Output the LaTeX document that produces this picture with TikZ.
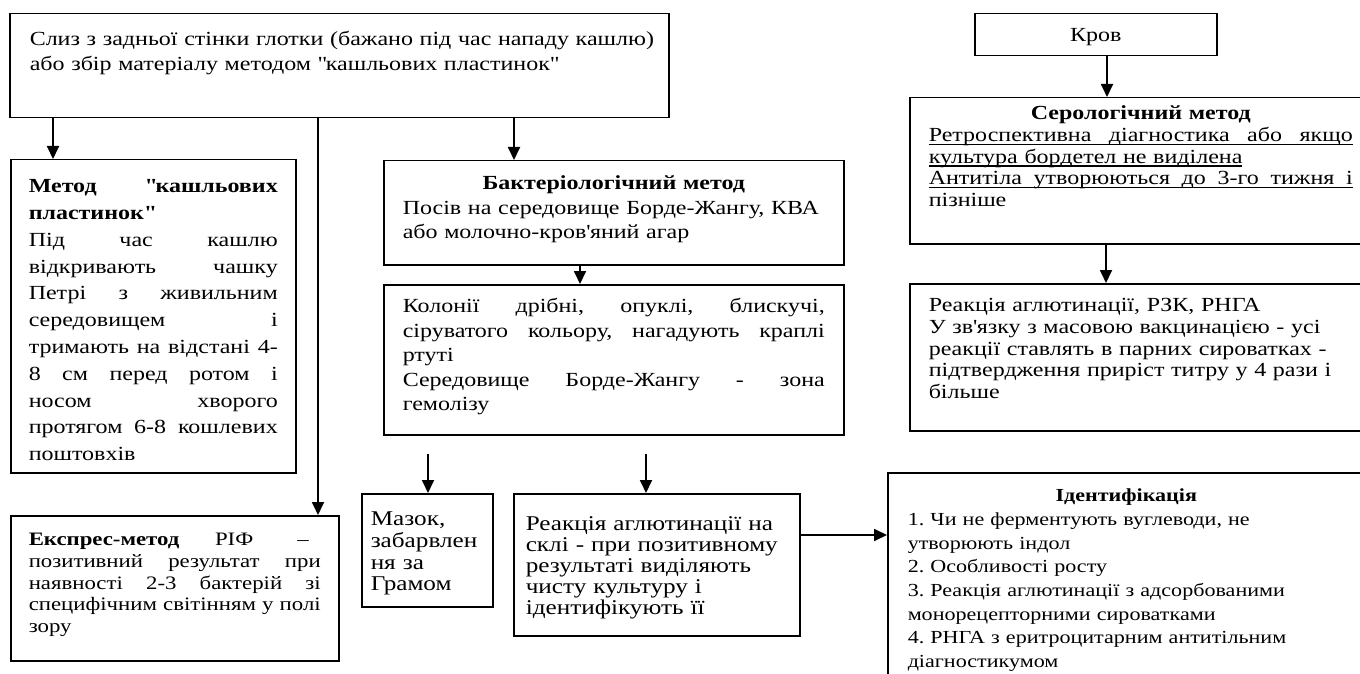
\documentclass[tikz,border=0pt]{standalone}
\usepackage{fontspec}
\setmainfont{Liberation Serif}[FakeStretch=1.2]
\usetikzlibrary{arrows.meta,calc}

\frenchspacing
\newcommand{\jl}[1]{\makebox[\linewidth][s]{\spaceskip=\fontdimen2\font plus 1fill\relax #1}}
\newsavebox{\ulsave}
\newcommand{\ulline}[1]{\leavevmode\sbox{\ulsave}{#1}\rlap{\rule[-3.5pt]{\wd\ulsave}{1.2pt}}\usebox{\ulsave}}

\begin{document}
\begin{tikzpicture}[
    x=1pt, y=1pt,
    box/.style={draw, line width=1.5pt, anchor=north west, inner ysep=0pt, align=left, font=\fontsize{20}{21.7}\selectfont},
    arrow/.style={-{Triangle[width=12pt,length=13pt]}, line width=1.8pt}
]
    \clip (0,0) rectangle (1360,-674);

    % material and the methods below it
    \node [box, inner xsep=20pt, text width=619pt, text height=32pt, text depth=72pt, font=\fontsize{20}{25}\selectfont] (smp) at (9,-13)
        {\mbox{Слиз з задньої стінки глотки (бажано під час нападу кашлю)}\\або збір матеріалу методом \textquotedbl кашльових пластинок\textquotedbl};
    \node [box, inner xsep=18pt, text width=249pt, text height=33pt, text depth=280pt, font=\fontsize{20}{26.8}\selectfont] (met) at (10,-159)
        {\jl{\textbf{Метод \textquotedbl кашльових}}\\\textbf{пластинок\textquotedbl}\\\jl{Під час кашлю}\\\jl{відкривають чашку}\\\jl{Петрі з живильним}\\\jl{середовищем і}\\\jl{тримають на відстані 4-}\\\jl{8 см перед ротом і}\\\jl{носом хворого}\\\jl{протягом 6-8 кошлевих}\\поштовхів};
    \node [box, inner xsep=18pt, text width=292pt, text height=30pt, text depth=115pt, font=\fontsize{19}{21.7}\selectfont] (expr) at (10,-515)
        {\makebox[\linewidth][l]{\textbf{Експрес-метод}\hfill РІФ\hspace{44pt}–\hspace{12pt}}\\\jl{позитивний результат при}\\\jl{наявності 2-3 бактерій зі}\\\jl{специфічним світінням у полі}\\зору};
    \node [box, inner xsep=19pt, text width=422pt, text height=29pt, text depth=75pt, font=\fontsize{20}{24.5}\selectfont] (bakt) at (383,-160)
        {\makebox[\linewidth]{\textbf{Бактеріологічний метод}}\\Посів на середовище Борде-Жангу, КВА\\або молочно-кров\textquotesingle яний агар};
    \node [box, inner xsep=19pt, text width=422pt, text height=28pt, text depth=122pt, font=\fontsize{20}{24.5}\selectfont] (kol) at (383,-284)
        {\jl{Колонії дрібні, опуклі, блискучі,}\\\jl{сіруватого кольору, нагадують краплі}\\ртуті\\\jl{Середовище Борде-Жангу - зона}\\гемолізу};
    \node [box, inner xsep=9pt, text width=113pt, text height=32pt, text depth=81pt, font=\fontsize{21}{21.7}\selectfont] (maz) at (361,-493)
        {Мазок,\\забарвлен\\ня за\\Грамом};
    \node [box, inner xsep=12pt, text width=262pt, text height=37pt, text depth=105pt, font=\fontsize{21}{21}\selectfont] (agl) at (513,-493)
        {Реакція аглютинації на\\склі - при позитивному\\результаті виділяють\\чисту культуру і\\ідентифікують її};
    \node [box, inner xsep=20pt, text width=437pt, text height=29pt, text depth=189pt, font=\fontsize{18.4}{23.7}\selectfont] (ident) at (887,-472)
        {\makebox[\linewidth]{\textbf{Ідентифікація}}\\1. Чи не ферментують вуглеводи, не\\утворюють індол\\2. Особливості росту\\3. Реакція аглютинації з адсорбованими\\монорецепторними сироватками\\4. РНГА з еритроцитарним антитільним\\діагностикумом};

    % blood and serology
    \node [box, inner xsep=0pt, text width=242pt, text height=28pt, text depth=14pt, align=center] (krov) at (974,-13) {Кров};
    \node [box, inner xsep=19pt, text width=424pt, text height=22pt, text depth=124pt] (ser) at (909,-97)
        {\makebox[\linewidth]{\textbf{Серологічний метод}}\\\ulline{\jl{Ретроспективна діагностика або якщо}}\\\ulline{культура бордетел не виділена}\\\ulline{\jl{Антитіла утворюються до 3-го тижня і}}\\пізніше};
    \node [box, inner xsep=19pt, text width=424pt, text height=28pt, text depth=119pt] (rea) at (909,-283)
        {Реакція аглютинації, РЗК, РНГА\\У зв\textquotesingle язку з масовою вакцинацією - усі\\реакції ставлять в парних сироватках -\\підтвердження приріст титру у 4 рази і\\більше};

    \coordinate (mazin) at ($(kol.south west)+(45,-18)$);
    \coordinate (aglin) at ($(kol.south west)+(263,-18)$);

    \draw [arrow] ([xshift=44pt]smp.south west) -- ([xshift=43pt]met.north west);
    \draw [arrow] ([xshift=309pt]smp.south west) -- ([xshift=308pt]expr.north west);
    \draw [arrow] ([xshift=505pt]smp.south west) -- ([xshift=131pt]bakt.north west);
    \draw [arrow] ([xshift=197pt]bakt.south west) -- ([xshift=197pt]kol.north west);
    \draw [arrow] (mazin) -- ([xshift=67pt]maz.north west);
    \draw [arrow] (aglin) -- ([xshift=133pt]agl.north west);
    \draw [arrow] ([yshift=-42pt]agl.north east) -- ([yshift=-63pt]ident.north west);
    \draw [arrow] ([xshift=133pt]krov.south west) -- ([xshift=198pt]ser.north west);
    \draw [arrow] ([xshift=197pt]ser.south west) -- ([xshift=197pt]rea.north west);
\end{tikzpicture}
\end{document}
